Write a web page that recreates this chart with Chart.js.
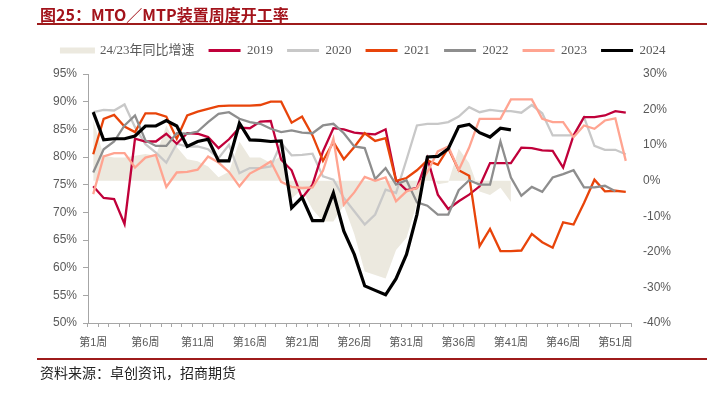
<!DOCTYPE html>
<html>
<head>
<meta charset="utf-8">
<script src="https://cdn.jsdelivr.net/npm/chart.js@4/dist/chart.umd.min.js"></script>
<style>
  body { margin: 0; width: 707px; height: 393px; background: #fff; position: relative; overflow: hidden; }
  #c { position: absolute; left: 0; top: 0; }
  .title { position: absolute; left: 40px; top: 2px; font: bold 16px "Noto Sans CJK SC", sans-serif; color: #A3131B; }
  .rule { position: absolute; left: 37px; width: 670px; height: 2px; background: #9E1B1B; }
  .src { position: absolute; left: 40px; top: 362px; font: 14px "Noto Sans CJK SC", sans-serif; color: #222; }
</style>
</head>
<body>
<canvas id="c" width="707" height="393"></canvas>
<div class="title">图25：MTO／MTP装置周度开工率</div>
<div class="rule" style="top:23px"></div>
<div class="rule" style="top:358px"></div>
<div class="src">资料来源：卓创资讯，招商期货</div>
<script>
const weeks = Array.from({ length: 52 }, (_, i) => '第' + (i + 1) + '周');

const yoy2423 = [17, 7, 6.5, 6.5, 7, 7.5, 7, 15.5, 9.5, 6, 5.5, 4, 1, 2.5, 11, 6.5, 6.5, 5, 7, -5,
  -2.5, -8, -11.5, -11.5, -7, -15, -25.5, -26.5, -27.5, -19.5, -16, -6.5, 4, -1, -0.5, 9, 5, -3, -4, -2,
  -6, null, null, null, null, null, null, null, null, null, null, null];

const y2019 = [74.7, 72.6, 72.4, 67.9, 83.3, 82.8, 82.8, 84.2, 82.4, 84.3, 84.2, 83.6, 81.6, 83.2, 85.3, 85.2, 86.4, 86.5, 79.5, 77.6,
  72.6, 75.0, 81.0, 85.2, 85.0, 84.4, 84.2, 84.1, 85.0, 75.8, 74.0, 74.4, 79.8, 73.2, 70.6, 72.0, 73.2, 74.7, 78.9, 78.9,
  78.9, 81.7, 81.6, 81.2, 81.1, 78.1, 83.9, 87.2, 87.2, 87.5, 88.3, 88.0];

const y2020 = [88.1, 88.5, 88.4, 89.5, 85.4, 82.3, 80.8, 79.0, 82.4, 81.9, 81.9, 81.4, 79.8, 82.2, 77.1, 78.0, 78.0, 78.3, 82.5, 80.3,
  80.4, 80.6, 76.5, 75.9, 72.6, 70.2, 67.8, 69.6, 74.1, 73.5, 79.5, 85.7, 86.0, 86.0, 86.3, 87.3, 89.0, 88.1, 88.5, 88.3,
  88.3, 88.0, 89.4, 87.9, 83.9, 83.9, 83.9, 87.2, 82.0, 81.3, 81.3, 80.5];

const y2021 = [80.5, 86.9, 87.6, 85.5, 84.5, 87.9, 87.9, 87.3, 83.3, 87.5, 88.2, 88.7, 89.2, 89.3, 89.3, 89.3, 89.4, 90.0, 90.0, 86.2,
  87.3, 83.9, 79.3, 82.7, 79.6, 81.8, 84.3, 82.9, 83.4, 75.7, 76.2, 77.6, 79.4, 78.6, 81.6, 77.6, 76.6, 63.9, 67.0, 63.0,
  63.0, 63.1, 66.1, 64.6, 63.6, 68.2, 67.8, 71.7, 75.9, 73.8, 73.9, 73.7];

const y2022 = [77.2, 81.4, 82.8, 85.7, 87.5, 83.0, 82.0, 82.0, 84.3, 84.2, 84.6, 86.3, 87.8, 88.1, 86.9, 86.3, 86.0, 85.1, 84.5, 84.8,
  84.4, 84.3, 85.7, 86.0, 84.3, 81.9, 81.6, 76.0, 78.0, 75.0, 75.8, 71.8, 71.2, 69.6, 69.6, 74.0, 75.8, 75.0, 75.0, 82.8,
  76.3, 73.0, 74.6, 73.7, 76.3, 76.9, 77.6, 74.5, 74.5, 74.8, 73.8, null];

const y2023 = [73.3, 80.1, 80.7, 80.7, 78.1, 79.9, 80.4, 74.6, 77.2, 77.3, 77.7, 80.1, 79.0, 77.3, 74.7, 77.0, 78.0, 79.2, 75.5, 74.6,
  74.4, 74.5, 77.5, 83.3, 71.4, 73.6, 76.4, 75.7, 76.3, 72.0, 73.8, 74.4, 77.3, 81.0, 81.9, 77.6, 81.7, 86.9, 86.9, 86.9,
  90.4, 90.4, 90.4, 86.9, 86.3, 86.3, 83.6, 85.7, 85.1, 86.6, 87.0, 79.3];

const y2024 = [88.1, 83.1, 83.3, 83.3, 83.8, 85.6, 85.6, 86.6, 85.6, 81.9, 82.8, 83.2, 79.3, 79.3, 86.1, 83.1, 83.0, 82.8, 82.9, 70.8,
  72.7, 68.5, 68.5, 73.5, 66.6, 62.4, 56.7, 55.9, 55.1, 58.0, 62.4, 69.6, 80.0, 80.1, 81.5, 85.5, 85.9, 84.4, 83.6, 85.2,
  84.9, null, null, null, null, null, null, null, null, null, null, null];

const grey = '#A6A6A6';
const txt = '#595959';

function line(label, data, color, width, order) {
  return {
    type: 'line', label, data, yAxisID: 'y', order,
    borderColor: color, backgroundColor: color, legendColor: color,
    borderWidth: width, pointRadius: 0, pointHoverRadius: 0, fill: false, tension: 0
  };
}

new Chart(document.getElementById('c'), {
  data: {
    labels: weeks,
    datasets: [
      {
        type: 'line', label: '24/23年同比增速', data: yoy2423, yAxisID: 'y1', order: 10,
        backgroundColor: '#ECE9DF', borderColor: 'rgba(0,0,0,0)', legendColor: '#ECE9DF',
        borderWidth: 0, pointRadius: 0, fill: 'origin', tension: 0
      },
      line('2019', y2019, '#C0003A', 2.3, 5),
      line('2020', y2020, '#C8C8C8', 2.3, 6),
      line('2021', y2021, '#E8440A', 2.3, 4),
      line('2022', y2022, '#8E8E8E', 2.3, 3),
      line('2023', y2023, '#FFA491', 2.3, 2),
      line('2024', y2024, '#000000', 3.2, 0)
    ]
  },
  options: {
    responsive: false,
    animation: false,
    devicePixelRatio: 1,
    layout: { padding: { left: 20, right: 0, top: 30, bottom: 0 } },
    plugins: {
      tooltip: { enabled: false },
      legend: {
        position: 'top',
        labels: {
          boxWidth: 32, boxHeight: 3, padding: 14, color: txt,
          font: { family: "'Liberation Serif', 'Noto Sans CJK SC', serif", size: 13 },
          generateLabels: chart => chart.data.datasets.map((ds, i) => ({
            text: ds.label, fillStyle: ds.legendColor, strokeStyle: ds.legendColor,
            lineWidth: i === 0 ? 3 : 0, hidden: false, datasetIndex: i, fontColor: txt
          }))
        }
      }
    },
    scales: {
      x: {
        type: 'category', position: 'bottom', offset: true,
        grid: { offset: true, drawOnChartArea: false, drawTicks: true, tickLength: 4, color: grey },
        border: { color: grey, width: 1 },
        ticks: {
          autoSkip: false, maxRotation: 0, padding: 9, color: txt,
          font: { family: "'Liberation Sans', 'Noto Sans CJK SC', sans-serif", size: 11 },
          callback: (v, i) => (i % 5 === 0 ? weeks[i] : '')
        },
        afterFit: s => { s.height = 70; }
      },
      xTop: {
        type: 'category', position: 'top', display: true,
        grid: { display: false, drawTicks: false }, border: { display: false },
        ticks: { display: false },
        afterFit: s => { s.height = 7; }
      },
      y: {
        position: 'left', min: 50, max: 95,
        grid: { drawOnChartArea: false, drawTicks: true, tickLength: 5, color: grey },
        border: { color: grey, width: 1 },
        ticks: {
          stepSize: 5, padding: 6, color: txt,
          font: { family: "'Liberation Sans', sans-serif", size: 12 },
          callback: v => v + '%'
        },
        afterFit: s => { s.width = 68; }
      },
      y1: {
        position: 'right', min: -40, max: 30,
        grid: { display: false, drawTicks: false },
        border: { display: false },
        ticks: {
          stepSize: 10, padding: 12, color: txt,
          font: { family: "'Liberation Sans', sans-serif", size: 12 },
          callback: v => v + '%'
        },
        afterFit: s => { s.width = 76; }
      }
    }
  }
});
</script>
</body>
</html>
